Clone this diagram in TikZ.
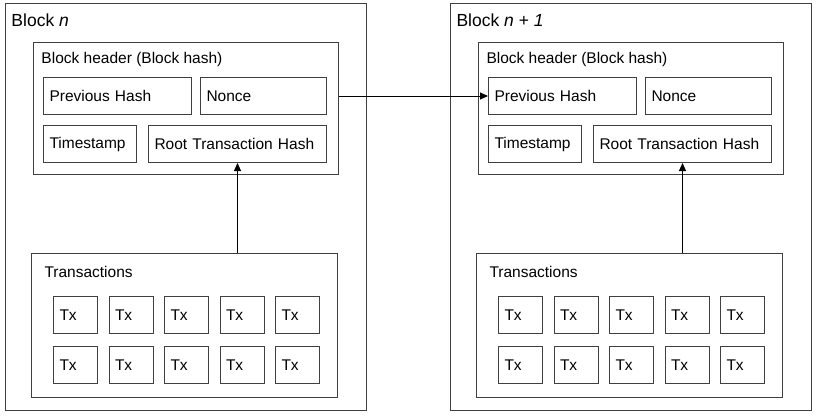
\documentclass[tikz,border=0pt]{standalone}
\usepackage{fontspec}
\setmainfont{Liberation Sans}
\usetikzlibrary{positioning,arrows.meta}

\tikzset{
  group/.style={draw=black!75, line width=1pt, anchor=north west, inner sep=0pt},
  field/.style={draw=black!75, line width=1pt, anchor=north west, minimum height=37pt,
    inner xsep=6pt, inner ysep=0pt, align=left, font=\fontsize{15.5}{18}\selectfont},
  txbox/.style={field, text width=32pt},
  caption/.style={anchor=base west, inner sep=0pt, font=\fontsize{15.5}{18}\selectfont},
}

\begin{document}
\begin{tikzpicture}[x=1pt,y=-1pt,>={Triangle[length=8pt,width=7pt]},
        line width=1pt]
  \useasboundingbox (0,0) rectangle (817,418);

  \foreach \b/\sx/\title in {a/0/{Block \textit{n}},b/445/{Block \textit{n} + \textit{1}}}{
    \begin{scope}[xshift=\sx pt]
      % block frame
      \node[group, minimum width=361pt, minimum height=407pt] (frame-\b) at (5,3) {};
      \node[caption, font=\fontsize{17.5}{20}\selectfont] (title-\b) at (11,26) {\title};

      % header
      \node[group, minimum width=305pt, minimum height=132pt] (hdr-\b) at (33,42) {};
      \node[caption] (hdrlabel-\b) at (41,63) {Block header (Block hash)};
      \node[field, text width=136pt, below right=35pt and 10pt of hdr-\b.north west] (prev-\b) {Previous Hash};
      \node[field, text width=114pt, right=8pt of prev-\b] (nonce-\b) {Nonce};
      \node[field, text width=81pt, below=10pt of prev-\b.south west, anchor=north west] (time-\b) {Timestamp};
      \node[field, text width=166pt, right=11pt of time-\b] (root-\b) {Root Transaction Hash};

      % transactions
      \node[group, minimum width=306pt, minimum height=144pt] (trans-\b) at (31,253) {};
      \node[caption] (translabel-\b) at (44,277) {Transactions};
      \foreach \r in {0,1}
        \foreach \c in {0,...,4}
          \node[txbox] (tx-\b-\r\c) at (53+55.5*\c, 296+50*\r) {Tx};

      \draw[->] (root-\b.south |- trans-\b.north) -- (root-\b.south);
    \end{scope}
  }

  \draw[->] (hdr-a.east |- prev-b.west) -- (prev-b.west);

\end{tikzpicture}
\end{document}
